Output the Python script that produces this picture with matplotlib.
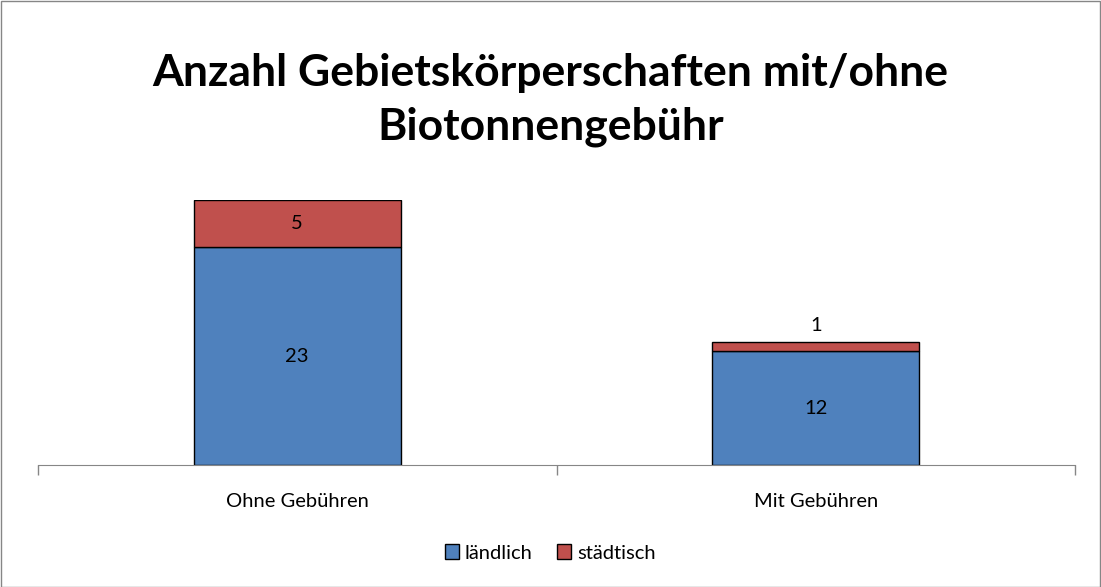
import matplotlib.pyplot as plt
from matplotlib.patches import Rectangle

# ===== DATA =====
categories = ["Ohne Gebühren", "Mit Gebühren"]
laendlich = [23, 12]
staedtisch = [5, 1]
series_names = ["ländlich", "städtisch"]

BLUE = "#4F81BD"
RED = "#C0504D"
FONT = ["Lato", "DejaVu Sans"]

plt.rcParams['font.family'] = FONT

fig = plt.figure(figsize=(11.01, 5.87), dpi=100)
W, H = 1101, 587

# outer chart border
fig.patches.append(Rectangle((0.5 / W, 0.5 / H), 1 - 1.5 / W, 1 - 1.5 / H,
                             transform=fig.transFigure, fill=False,
                             edgecolor="#868686", linewidth=1))

ax = fig.add_axes([38 / W, 122 / H, (1075 - 38) / W, 265 / H])
x = list(range(len(categories)))
b1 = ax.bar(x, laendlich, width=0.4, color=BLUE, edgecolor="black",
            linewidth=1, label=series_names[0])
b2 = ax.bar(x, staedtisch, width=0.4, bottom=laendlich, color=RED,
            edgecolor="black", linewidth=1, label=series_names[1])

ax.set_xlim(-0.5, len(categories) - 0.5)
ax.set_ylim(0, 28)
for s in ["top", "right", "left"]:
    ax.spines[s].set_visible(False)
ax.spines["bottom"].set_color("#868686")
ax.set_yticks([])
ax.set_xticks([-0.5, 0.5, 1.5])
ax.set_xticklabels([])
ax.tick_params(axis="x", length=7, color="#868686", width=1)

LBL = 14.5

# category labels
for i, c in enumerate(categories):
    ax.annotate(c, (i, 0), xytext=(0, -26), textcoords="offset points",
                ha="center", va="center", fontsize=LBL)

# value labels
for i in x:
    ax.text(i, laendlich[i] / 2, str(laendlich[i]), ha="center", va="center",
            fontsize=LBL)
    if staedtisch[i] >= 3:
        ax.text(i, laendlich[i] + staedtisch[i] / 2, str(staedtisch[i]),
                ha="center", va="center", fontsize=LBL)
    else:
        ax.annotate(str(staedtisch[i]), (i, laendlich[i] + staedtisch[i]),
                    xytext=(0, 12), textcoords="offset points",
                    ha="center", va="center", fontsize=LBL)

fig.text(0.5, 1 - 100 / H, "Anzahl Gebietskörperschaften mit/ohne\nBiotonnengebühr",
         ha="center", va="center", fontsize=32, fontweight="bold",
         linespacing=1.4)

fig.legend(handles=[b1, b2], labels=series_names, loc="center",
           bbox_to_anchor=(550 / W, 1 - 553 / H), ncol=2, frameon=False,
           fontsize=LBL, handlelength=0.7, handleheight=0.7,
           handletextpad=0.3, columnspacing=1.2)

fig.savefig("out.png", dpi=100)
